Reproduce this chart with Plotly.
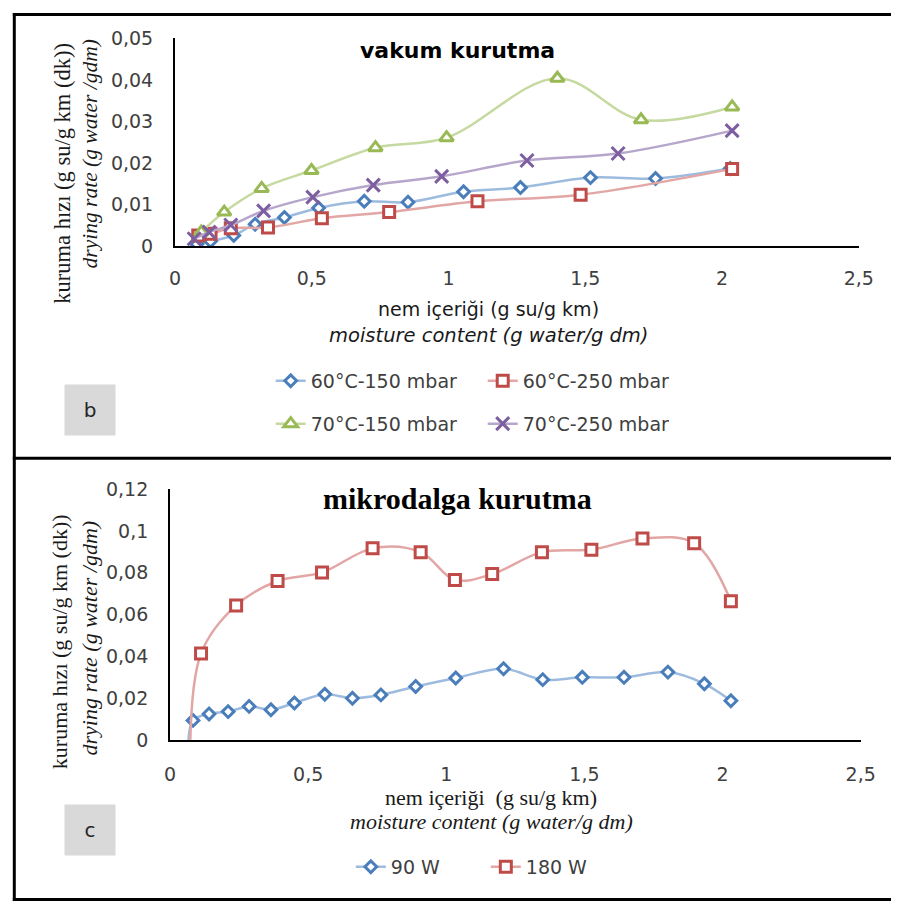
import plotly.graph_objects as go

W, H = 906, 915

# ---- panel b: vacuum drying, drying rate vs moisture content ----
v60_150_x = [0.08, 0.13, 0.215, 0.293, 0.40, 0.525, 0.692, 0.852, 1.055, 1.263, 1.519, 1.757, 2.03]
v60_150_y = [0.0005, 0.0012, 0.0026, 0.0053, 0.0069, 0.0092, 0.0108, 0.0106, 0.0131, 0.0141, 0.0165, 0.0163, 0.0187]

v60_250_x = [0.085, 0.13, 0.204, 0.34, 0.537, 0.783, 1.106, 1.483, 2.037]
v60_250_y = [0.0026, 0.0030, 0.0043, 0.0045, 0.0067, 0.0082, 0.0108, 0.0124, 0.0186]

v70_150_x = [0.096, 0.18, 0.317, 0.499, 0.733, 0.993, 1.398, 1.704, 2.037]
v70_150_y = [0.0034, 0.0082, 0.0139, 0.0182, 0.0237, 0.0261, 0.0404, 0.0304, 0.0335]

v70_250_x = [0.07, 0.125, 0.204, 0.324, 0.504, 0.725, 0.975, 1.287, 1.62, 2.037]
v70_250_y = [0.0018, 0.0034, 0.0051, 0.0085, 0.0118, 0.0147, 0.0168, 0.0206, 0.0223, 0.0278]

# ---- panel c: microwave drying ----
mw90_x = [0.065, 0.083, 0.141, 0.21, 0.286, 0.365, 0.45, 0.56, 0.66, 0.763, 0.889, 1.034, 1.207,
          1.349, 1.492, 1.643, 1.802, 1.934, 2.03]
mw90_y = [-0.006, 0.0094, 0.0125, 0.0136, 0.0161, 0.0145, 0.0177, 0.0219, 0.0200, 0.0216, 0.0256,
          0.0297, 0.0341, 0.0289, 0.0300, 0.0300, 0.0325, 0.0269, 0.0188]

mw180_x = [0.072, 0.112, 0.239, 0.389, 0.55, 0.733, 0.907, 1.031, 1.166, 1.346, 1.525, 1.71, 1.897, 2.03]
mw180_y = [-0.010, 0.0414, 0.0644, 0.0761, 0.0802, 0.0917, 0.0899, 0.0766, 0.0794, 0.0899, 0.0911,
           0.0964, 0.0942, 0.0664]

x_ticks = [0, 0.5, 1, 1.5, 2, 2.5]
y_ticks_b = [0, 0.01, 0.02, 0.03, 0.04, 0.05]
y_ticks_c = [0, 0.02, 0.04, 0.06, 0.08, 0.1, 0.12]


def fx(p):
    return p / W


def fy(p):
    return 1 - p / H


SANS = "DejaVu Sans"
SERIF = "Liberation Serif"
TICK_COL = "#404040"

BLUE, BLUE_L = "#4A7EBB", "#9DBBDE"
RED, RED_L = "#BE4B48", "#E2A6A5"
GREEN, GREEN_L = "#98B954", "#C6D9A0"
PURPLE, PURPLE_L = "#7D5FA0", "#B6A6CB"


def series(x, y, name, mk, ln, symbol, size, xa, ya, legend):
    return go.Scatter(
        x=x, y=y, name=name, mode="lines+markers",
        line=dict(color=ln, width=2.5, shape="spline", smoothing=1.0),
        marker=dict(symbol=symbol, size=size, color="white",
                    line=dict(color=mk, width=3)),
        xaxis=xa, yaxis=ya, legend=legend, cliponaxis=True,
    )


fig = go.Figure()
fig.add_trace(series(v60_150_x, v60_150_y, "60°C-150 mbar", BLUE, BLUE_L, "diamond", 9, "x", "y", "legend"))
fig.add_trace(series(v60_250_x, v60_250_y, "60°C-250 mbar", RED, RED_L, "square", 11, "x", "y", "legend"))
fig.add_trace(series(v70_150_x, v70_150_y, "70°C-150 mbar", GREEN, GREEN_L, "triangle-up", 12, "x", "y", "legend2"))
fig.add_trace(series(v70_250_x, v70_250_y, "70°C-250 mbar", PURPLE, PURPLE_L, "x-thin", 13, "x", "y", "legend2"))
fig.add_trace(series(mw90_x, mw90_y, "90 W", BLUE, BLUE_L, "diamond", 9, "x2", "y2", "legend3"))
fig.add_trace(series(mw180_x, mw180_y, "180 W", RED, RED_L, "square", 11, "x2", "y2", "legend3"))

axis_common = dict(showgrid=False, zeroline=False, showline=True, linecolor="black",
                   linewidth=2, ticks="", tickfont=dict(family=SANS, size=19, color=TICK_COL))

legend_font = dict(family=SANS, size=19, color=TICK_COL)

fig.update_layout(
    width=W, height=H,
    margin=dict(l=0, r=0, t=0, b=0),
    paper_bgcolor="white", plot_bgcolor="white",
    separators=", ",
    xaxis=dict(domain=[fx(173), fx(873)], range=[0, 2.5], tickvals=x_ticks,
               anchor="y", ticklabelstandoff=14, **axis_common),
    yaxis=dict(domain=[fy(241), fy(28)], range=[0, 0.05], tickvals=y_ticks_b,
               anchor="x", ticklabelstandoff=16, **axis_common),
    xaxis2=dict(domain=[fx(168), fx(875)], range=[0, 2.5], tickvals=x_ticks,
                anchor="y2", ticklabelstandoff=16, **axis_common),
    yaxis2=dict(domain=[fy(747), fy(490)], range=[0, 0.12], tickvals=y_ticks_c,
                anchor="x2", ticklabelstandoff=16, **axis_common),
    legend=dict(orientation="h", x=fx(271), y=fy(379), xanchor="left", yanchor="middle",
                font=legend_font, entrywidth=167, bgcolor="rgba(0,0,0,0)"),
    legend2=dict(orientation="h", x=fx(271), y=fy(423), xanchor="left", yanchor="middle",
                 font=legend_font, entrywidth=167, bgcolor="rgba(0,0,0,0)"),
    legend3=dict(orientation="h", x=fx(353), y=fy(877), xanchor="left", yanchor="middle",
                 font=legend_font, entrywidth=90, bgcolor="rgba(0,0,0,0)"),
)


def note(text, x, y, family, size, color="black", angle=0, **kw):
    fig.add_annotation(text=text, x=fx(x), y=fy(y), xref="paper", yref="paper",
                       showarrow=False, textangle=angle, xanchor="center", yanchor="middle",
                       font=dict(family=family, size=size, color=color), **kw)


# panel b texts
note("<b>vakum kurutma</b>", 462, 40, SANS, 22)
note("nem içeriği (g su/g km)", 494, 305, SANS, 19, "#1a1a1a")
note("<i>moisture content (g water/g dm)</i>", 494, 333, SANS, 19.5, "#1a1a1a")
note("kuruma hızı (g su/g km (dk))", 57, 166, SERIF, 22.5, "#1a1a1a", -90)
note("<i>drying rate (g water /gdm)</i>", 86, 147, SERIF, 21.5, "#1a1a1a", -90)

# panel c texts
note("<b>mikrodalga kurutma</b>", 462, 500, SERIF, 30)
note("nem içeriği  (g su/g km)", 496, 806, SERIF, 22, "#1a1a1a")
note("<i>moisture content (g water/g dm)</i>", 497, 830, SERIF, 22, "#1a1a1a")
note("kuruma hızı (g su/g km (dk))", 55, 646, SERIF, 22, "#1a1a1a", -90)
note("<i>drying rate (g water /gdm)</i>", 86, 643, SERIF, 22, "#1a1a1a", -90)

# panel tags
for tag, cy in (("b", 409), ("c", 866)):
    fig.add_annotation(text=tag, x=fx(59), y=fy(cy), xref="paper", yref="paper",
                       showarrow=False, width=48, height=48, bgcolor="#D9D9D9",
                       font=dict(family=SANS, size=20, color="#262626"))

# panel frames
frame = dict(type="line", xref="paper", yref="paper", line=dict(color="black", width=3))
fig.add_shape(x0=fx(8.5), x1=fx(8.5), y0=fy(2), y1=fy(912), **frame)
fig.add_shape(x0=fx(7), x1=1, y0=fy(3.5), y1=fy(3.5), **frame)
fig.add_shape(x0=fx(7), x1=1, y0=fy(458.3), y1=fy(458.3), **frame)
fig.add_shape(x0=fx(7), x1=1, y0=fy(910.5), y1=fy(910.5), **frame)

fig.write_html("out.html")
